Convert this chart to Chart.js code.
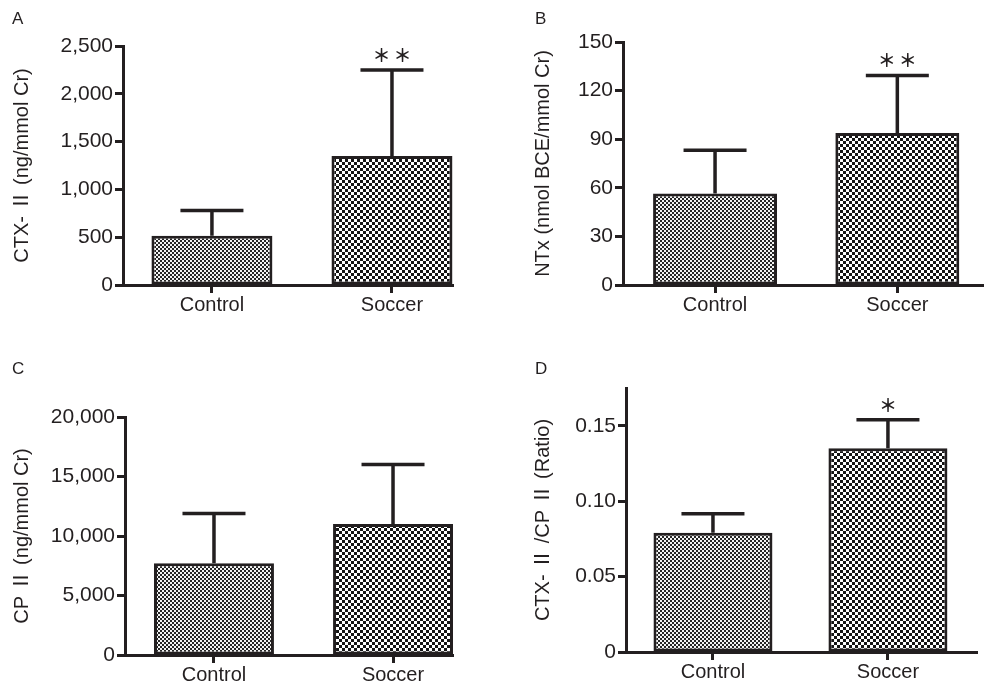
<!DOCTYPE html>
<html><head><meta charset="utf-8">
<script src="https://cdn.jsdelivr.net/npm/chart.js@4.4.0/dist/chart.umd.min.js"></script>
<style>
html,body{margin:0;padding:0;background:#fff;}
#wrap{position:relative;width:984px;height:684px;overflow:hidden;background:#fff;}
canvas{position:absolute;}
.lbl{position:absolute;font:17px "Liberation Sans",Arial,sans-serif;color:#231f20;line-height:20px;}
</style></head><body>
<div id="wrap">
<canvas id="cA" width="492" height="342" style="left:0;top:0"></canvas>
<canvas id="cB" width="492" height="342" style="left:492px;top:0"></canvas>
<canvas id="cC" width="492" height="342" style="left:0;top:342px"></canvas>
<canvas id="cD" width="492" height="342" style="left:492px;top:342px"></canvas>
<div class="lbl" style="left:12px;top:9px">A</div>
<div class="lbl" style="left:535px;top:9px">B</div>
<div class="lbl" style="left:12px;top:359px">C</div>
<div class="lbl" style="left:535px;top:359px">D</div>
</div>
<script>
// ---- data ----
const categories = ['Control', 'Soccer'];

const meanA = [515, 1350];
const sdA = [265, 900];
const sigA = ['', '**'];
const ticksA = [0, 500, 1000, 1500, 2000, 2500];
const tickLabelsA = ['0', '500', '1,000', '1,500', '2,000', '2,500'];
const titleA = 'CTX- Ⅱ (ng/mmol Cr)';

const meanB = [56.5, 93.9];
const sdB = [26.7, 35.4];
const sigB = ['', '**'];
const ticksB = [0, 30, 60, 90, 120, 150];
const tickLabelsB = ['0', '30', '60', '90', '120', '150'];
const titleB = 'NTx (nmol BCE/mmol Cr)';

const meanC = [7700, 11000];
const sdC = [4200, 5000];
const sigC = ['', ''];
const ticksC = [0, 5000, 10000, 15000, 20000];
const tickLabelsC = ['0', '5,000', '10,000', '15,000', '20,000'];
const titleC = 'CP Ⅱ (ng/mmol Cr)';

const meanD = [0.079, 0.135];
const sdD = [0.0126, 0.019];
const sigD = ['', '*'];
const ticksD = [0, 0.05, 0.10, 0.15];
const tickLabelsD = ['0', '0.05', '0.10', '0.15'];
const titleD = 'CTX- Ⅱ /CP Ⅱ (Ratio)';

// ---- style ----
const INK = '#231f20';
const FAM = '"Liberation Sans", Arial, "Noto Sans CJK JP", sans-serif';
Chart.defaults.font.family = FAM;
Chart.defaults.color = INK;

function checker(ctx, size, dark, light) {
  const c = document.createElement('canvas');
  c.width = c.height = size * 2;
  const g = c.getContext('2d');
  g.fillStyle = light; g.fillRect(0, 0, size * 2, size * 2);
  g.fillStyle = dark; g.fillRect(0, 0, size, size); g.fillRect(size, size, size, size);
  return ctx.createPattern(c, 'repeat');
}

const errPlugin = {
  id: 'errbars',
  afterDatasetsDraw(chart, args, opts) {
    const ctx = chart.ctx, ys = chart.scales.y;
    const meta = chart.getDatasetMeta(0);
    const ds = chart.data.datasets[0];
    ctx.save();
    ctx.strokeStyle = INK; ctx.lineWidth = 3.5; ctx.lineCap = 'butt';
    meta.data.forEach((bar, i) => {
      const top = ys.getPixelForValue(ds.data[i].y + opts.sd[i]);
      ctx.beginPath();
      ctx.moveTo(bar.x, bar.y); ctx.lineTo(bar.x, top);
      ctx.moveTo(bar.x - 31.5, top); ctx.lineTo(bar.x + 31.5, top);
      ctx.stroke();
      const s = opts.sig[i];
      if (s) {
        ctx.fillStyle = INK;
        ctx.font = 'bold 18px "Noto Sans CJK JP", sans-serif';
        ctx.textAlign = 'center'; ctx.textBaseline = 'middle';
        for (let k = 0; k < s.length; k++) {
          const x = bar.x + (k - (s.length - 1) / 2) * 21;
          ctx.fillText('＊', x, top - 15);
        }
      }
    });
    ctx.restore();
  }
};

function makeChart(id, mean, sd, sig, tv, tl, title, yMax, xMin, xMax, barPct, pad, yWidth) {
  const el = document.getElementById(id);
  const ctx = el.getContext('2d');
  const pats = [checker(ctx, 2, '#262626', '#f4f4f4'), checker(ctx, 3, '#141414', '#ffffff')];
  return new Chart(ctx, {
    type: 'bar',
    data: {
      datasets: [{
        data: categories.map((c, i) => ({ x: i, y: mean[i] })),
        backgroundColor: pats,
        borderColor: INK,
        borderWidth: 3,
        borderSkipped: false,
        barPercentage: barPct,
        categoryPercentage: 1
      }]
    },
    options: {
      responsive: false,
      animation: false,
      devicePixelRatio: 1,
      layout: { padding: pad },
      plugins: { legend: { display: false }, tooltip: { enabled: false }, errbars: { sd: sd, sig: sig } },
      scales: {
        x: {
          type: 'linear', min: xMin, max: xMax, offset: false,
          afterBuildTicks: s => { s.ticks = categories.map((c, i) => ({ value: i })); },
          afterFit: s => { s.height = 28; },
          ticks: { callback: (v, i) => categories[i], autoSkip: false, maxRotation: 0, padding: 0, color: INK, font: { size: 20 } },
          grid: { offset: false, drawOnChartArea: false, drawTicks: true, tickLength: 8, tickWidth: 3, tickColor: INK },
          border: { display: true, width: 3, color: INK }
        },
        y: {
          min: 0, max: yMax,
          afterBuildTicks: s => { s.ticks = tv.map(v => ({ value: v })); },
          afterFit: s => { s.width = yWidth; },
          ticks: { callback: (v, i) => tl[i], padding: 2, color: INK, font: { size: 21 } },
          grid: { drawOnChartArea: false, drawTicks: true, tickLength: 8, tickWidth: 3, tickColor: INK },
          border: { display: true, width: 3, color: INK },
          title: { display: true, text: title, color: INK, font: { size: 20 }, padding: { top: 4, bottom: 4 } }
        }
      }
    },
    plugins: [errPlugin]
  });
}

makeChart('cA', meanA, sdA, sigA, ticksA, tickLabelsA, titleA, 2500, -0.494, 1.339, 0.672,
  { left: 6, top: 46, right: 39, bottom: 29 }, 117);
makeChart('cB', meanB, sdB, sigB, ticksB, tickLabelsB, titleB, 150, -0.505, 1.47, 0.68,
  { left: 35, top: 42, right: 1, bottom: 29 }, 96);
makeChart('cC', meanC, sdC, sigC, ticksC, tickLabelsC, titleC, 20000, -0.497, 1.335, 0.67,
  { left: 6, top: 75, right: 39, bottom: 1 }, 119);
makeChart('cD', meanD, sdD, sigD, ticksD, tickLabelsD, titleD, 0.175, -0.497, 1.509, 0.68,
  { left: 35, top: 46, right: 7, bottom: 4 }, 99);
</script>
</body></html>
